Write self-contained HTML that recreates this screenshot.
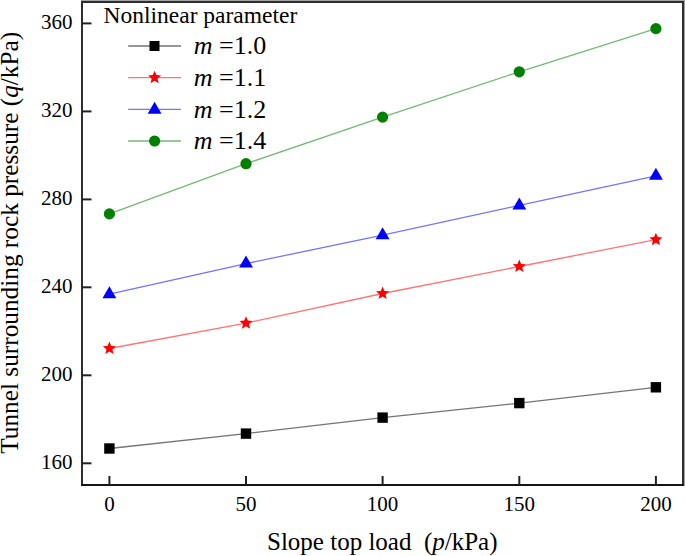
<!DOCTYPE html>
<html><head><meta charset="utf-8"><style>
html,body{margin:0;padding:0;background:#fff;}
svg{display:block;}
text{font-family:"Liberation Serif",serif;fill:#000;}
.tk{font-size:21px;}
.lt{font-size:23.5px;}
.le{font-size:26px;}
.at{font-size:25px;white-space:pre;}
</style></head><body>
<svg width="685" height="556" viewBox="0 0 685 556">
<rect width="685" height="556" fill="#fff"/>
<rect x="81" y="0" width="604" height="1" fill="#a4a4a4"/>
<rect x="684" y="0" width="1" height="486" fill="#a4a4a4"/>
<rect x="81" y="1" width="603" height="2" fill="#2e2e2e"/>
<rect x="81" y="1" width="2" height="485" fill="#2e2e2e"/>
<rect x="682" y="1" width="2" height="485" fill="#2e2e2e"/>
<rect x="81" y="484" width="603" height="2" fill="#151515"/>
<line x1="82" y1="23.4" x2="91.5" y2="23.4" stroke="#222" stroke-width="2"/>
<text x="72.6" y="29.1" text-anchor="end" class="tk">360</text>
<line x1="82" y1="111.4" x2="91.5" y2="111.4" stroke="#222" stroke-width="2"/>
<text x="72.6" y="117.1" text-anchor="end" class="tk">320</text>
<line x1="82" y1="199.4" x2="91.5" y2="199.4" stroke="#222" stroke-width="2"/>
<text x="72.6" y="205.1" text-anchor="end" class="tk">280</text>
<line x1="82" y1="287.3" x2="91.5" y2="287.3" stroke="#222" stroke-width="2"/>
<text x="72.6" y="293.0" text-anchor="end" class="tk">240</text>
<line x1="82" y1="375.3" x2="91.5" y2="375.3" stroke="#222" stroke-width="2"/>
<text x="72.6" y="381.0" text-anchor="end" class="tk">200</text>
<line x1="82" y1="463.3" x2="91.5" y2="463.3" stroke="#222" stroke-width="2"/>
<text x="72.6" y="469.0" text-anchor="end" class="tk">160</text>
<line x1="109.4" y1="485" x2="109.4" y2="476" stroke="#222" stroke-width="2"/>
<text x="109.4" y="510.6" text-anchor="middle" class="tk">0</text>
<line x1="246.0" y1="485" x2="246.0" y2="476" stroke="#222" stroke-width="2"/>
<text x="246.0" y="510.6" text-anchor="middle" class="tk">50</text>
<line x1="382.6" y1="485" x2="382.6" y2="476" stroke="#222" stroke-width="2"/>
<text x="382.6" y="510.6" text-anchor="middle" class="tk">100</text>
<line x1="519.3" y1="485" x2="519.3" y2="476" stroke="#222" stroke-width="2"/>
<text x="519.3" y="510.6" text-anchor="middle" class="tk">150</text>
<line x1="655.9" y1="485" x2="655.9" y2="476" stroke="#222" stroke-width="2"/>
<text x="655.9" y="510.6" text-anchor="middle" class="tk">200</text>
<polyline points="109.40,448.50 246.00,433.60 382.60,417.60 519.30,403.10 655.90,387.30" fill="none" stroke="#000" stroke-width="1.3" stroke-opacity="0.55"/>
<polyline points="109.40,348.50 246.00,323.10 382.60,293.50 519.30,266.50 655.90,239.60" fill="none" stroke="#f00" stroke-width="1.3" stroke-opacity="0.55"/>
<polyline points="109.40,294.20 246.00,263.60 382.60,235.20 519.30,205.40 655.90,175.80" fill="none" stroke="#00f" stroke-width="1.3" stroke-opacity="0.55"/>
<polyline points="109.40,213.90 246.00,163.70 382.60,117.10 519.30,71.80 655.90,28.60" fill="none" stroke="#008000" stroke-width="1.3" stroke-opacity="0.55"/>
<rect x="104.20" y="443.30" width="10.4" height="10.4" fill="#000"/>
<rect x="240.80" y="428.40" width="10.4" height="10.4" fill="#000"/>
<rect x="377.40" y="412.40" width="10.4" height="10.4" fill="#000"/>
<rect x="514.10" y="397.90" width="10.4" height="10.4" fill="#000"/>
<rect x="650.70" y="382.10" width="10.4" height="10.4" fill="#000"/>
<polygon points="109.40,341.60 111.23,345.99 115.96,346.37 112.35,349.46 113.46,354.08 109.40,351.61 105.34,354.08 106.45,349.46 102.84,346.37 107.57,345.99" fill="#f00"/>
<polygon points="246.00,316.20 247.83,320.59 252.56,320.97 248.95,324.06 250.06,328.68 246.00,326.21 241.94,328.68 243.05,324.06 239.44,320.97 244.17,320.59" fill="#f00"/>
<polygon points="382.60,286.60 384.43,290.99 389.16,291.37 385.55,294.46 386.66,299.08 382.60,296.61 378.54,299.08 379.65,294.46 376.04,291.37 380.77,290.99" fill="#f00"/>
<polygon points="519.30,259.60 521.13,263.99 525.86,264.37 522.25,267.46 523.36,272.08 519.30,269.61 515.24,272.08 516.35,267.46 512.74,264.37 517.47,263.99" fill="#f00"/>
<polygon points="655.90,232.70 657.73,237.09 662.46,237.47 658.85,240.56 659.96,245.18 655.90,242.70 651.84,245.18 652.95,240.56 649.34,237.47 654.07,237.09" fill="#f00"/>
<polygon points="109.40,286.20 116.33,298.20 102.47,298.20" fill="#00f"/>
<polygon points="246.00,255.60 252.93,267.60 239.07,267.60" fill="#00f"/>
<polygon points="382.60,227.20 389.53,239.20 375.67,239.20" fill="#00f"/>
<polygon points="519.30,197.40 526.23,209.40 512.37,209.40" fill="#00f"/>
<polygon points="655.90,167.80 662.83,179.80 648.97,179.80" fill="#00f"/>
<circle cx="109.40" cy="213.90" r="5.6" fill="#008000"/>
<circle cx="246.00" cy="163.70" r="5.6" fill="#008000"/>
<circle cx="382.60" cy="117.10" r="5.6" fill="#008000"/>
<circle cx="519.30" cy="71.80" r="5.6" fill="#008000"/>
<circle cx="655.90" cy="28.60" r="5.6" fill="#008000"/>
<text x="103.5" y="22.8" class="lt">Nonlinear parameter</text>
<line x1="128.2" y1="46.0" x2="181" y2="46.0" stroke="#000" stroke-width="1.3" stroke-opacity="0.55"/>
<rect x="149.50" y="41.00" width="10" height="10" fill="#000"/>
<text x="193.7" y="54.3" class="le"><tspan font-style="italic">m</tspan> =1.0</text>
<line x1="128.2" y1="77.6" x2="181" y2="77.6" stroke="#f00" stroke-width="1.3" stroke-opacity="0.55"/>
<polygon points="154.60,70.70 156.43,75.09 161.16,75.47 157.55,78.56 158.66,83.18 154.60,80.70 150.54,83.18 151.65,78.56 148.04,75.47 152.77,75.09" fill="#f00"/>
<text x="193.7" y="85.9" class="le"><tspan font-style="italic">m</tspan> =1.1</text>
<line x1="128.2" y1="109.3" x2="181" y2="109.3" stroke="#00f" stroke-width="1.3" stroke-opacity="0.55"/>
<polygon points="154.60,101.80 161.53,113.80 147.67,113.80" fill="#00f"/>
<text x="193.7" y="117.6" class="le"><tspan font-style="italic">m</tspan> =1.2</text>
<line x1="128.2" y1="141.0" x2="181" y2="141.0" stroke="#008000" stroke-width="1.3" stroke-opacity="0.55"/>
<circle cx="154.60" cy="141.00" r="5.6" fill="#008000"/>
<text x="193.7" y="149.3" class="le"><tspan font-style="italic">m</tspan> =1.4</text>
<text x="267" y="549.6" class="at" xml:space="preserve">Slope top load  (<tspan font-style="italic">p</tspan>/kPa)</text>
<text transform="translate(18.4,453.8) rotate(-90)" class="at" style="font-size:25.3px">Tunnel surrounding rock pressure (<tspan font-style="italic">q</tspan>/kPa)</text>
</svg>
</body></html>
